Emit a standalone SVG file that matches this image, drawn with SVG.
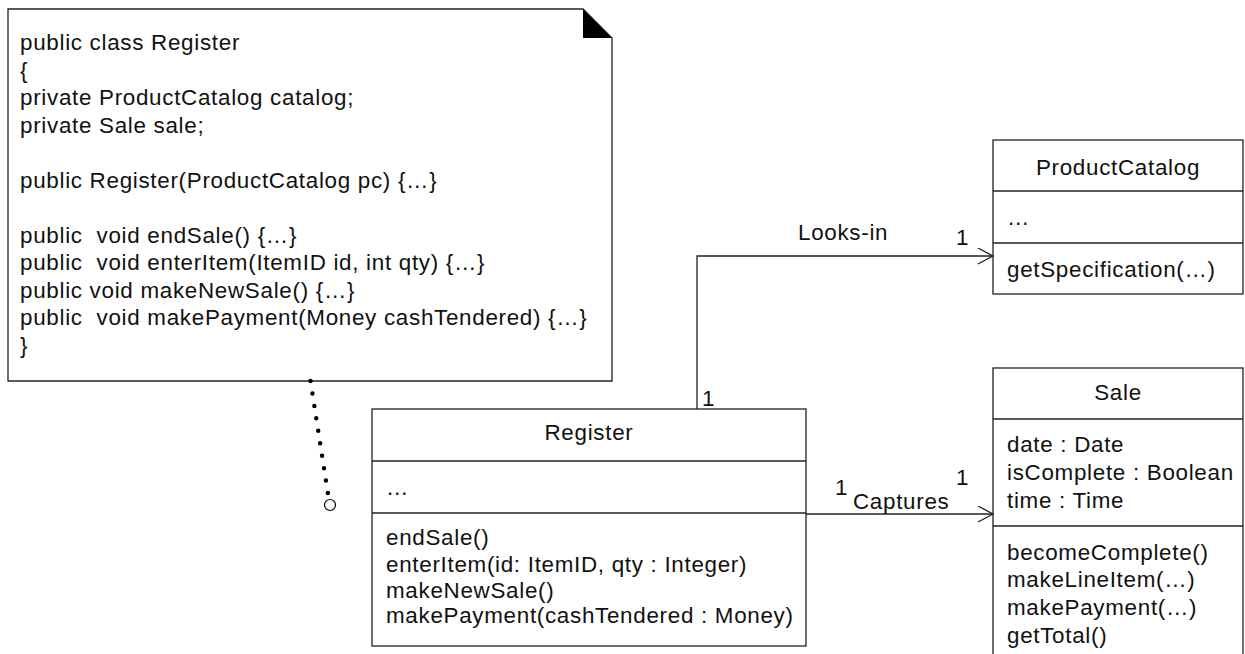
<svg xmlns="http://www.w3.org/2000/svg" width="1245" height="654" viewBox="0 0 1245 654">
<style>
text{font-family:"Liberation Sans",Arial,sans-serif;font-size:22.4px;fill:#111;letter-spacing:0.7px}
.c{text-anchor:middle}
.box{fill:#fff;stroke:#222;stroke-width:1.3}
.ln{fill:none;stroke:#222;stroke-width:1.3}
</style>
<defs>
<marker id="open" markerWidth="20" markerHeight="20" refX="16" refY="8" orient="auto" markerUnits="userSpaceOnUse">
<path d="M1,0 L16,8 L1,16" fill="none" stroke="#222" stroke-width="1.3"/>
</marker>
</defs>
<rect width="1245" height="654" fill="#fff"/>

<g id="note">
<path d="M8,9 L583,9 L612,38 L612,381 L8,381 Z" class="box"/>
<path d="M583,9 L612,38 L583,38 Z" fill="#000"/>
<text x="20" y="50">public class Register</text>
<text x="20" y="78">{</text>
<text x="20" y="105">private ProductCatalog catalog;</text>
<text x="20" y="133">private Sale sale;</text>
<text x="20" y="188">public Register(ProductCatalog pc) {…}</text>
<text x="20" y="243" xml:space="preserve">public  void endSale() {…}</text>
<text x="20" y="270" xml:space="preserve">public  void enterItem(ItemID id, int qty) {…}</text>
<text x="20" y="298">public void makeNewSale() {…}</text>
<text x="20" y="325" xml:space="preserve">public  void makePayment(Money cashTendered) {…}</text>
<text x="20" y="353">}</text>
</g>

<g id="register">
<rect x="372" y="409" width="434" height="237" class="box"/>
<line x1="372" y1="461" x2="806" y2="461" class="ln"/>
<line x1="372" y1="513" x2="806" y2="513" class="ln"/>
<text x="589" y="440" class="c">Register</text>
<text x="386" y="495">…</text>
<text x="386" y="545">endSale()</text>
<text x="386" y="572">enterItem(id: ItemID, qty : Integer)</text>
<text x="386" y="598">makeNewSale()</text>
<text x="386" y="623">makePayment(cashTendered : Money)</text>
</g>

<g id="productcatalog">
<rect x="993" y="140" width="250" height="154" class="box"/>
<line x1="993" y1="191" x2="1243" y2="191" class="ln"/>
<line x1="993" y1="243" x2="1243" y2="243" class="ln"/>
<text x="1118" y="175" class="c">ProductCatalog</text>
<text x="1007" y="225">…</text>
<text x="1007" y="277">getSpecification(…)</text>
</g>

<g id="sale">
<rect x="993" y="368" width="250" height="300" class="box"/>
<line x1="993" y1="419" x2="1243" y2="419" class="ln"/>
<line x1="993" y1="526" x2="1243" y2="526" class="ln"/>
<text x="1118" y="400" class="c">Sale</text>
<text x="1007" y="452">date : Date</text>
<text x="1007" y="480">isComplete : Boolean</text>
<text x="1007" y="508">time : Time</text>
<text x="1007" y="560">becomeComplete()</text>
<text x="1007" y="587">makeLineItem(…)</text>
<text x="1007" y="615">makePayment(…)</text>
<text x="1007" y="643">getTotal()</text>
</g>

<g id="connectors">
<path d="M310.5,381 L328,494" fill="none" stroke="#000" stroke-width="4.5" stroke-linecap="round" stroke-dasharray="0 12.6"/>
<circle cx="330" cy="505" r="5.5" fill="#fff" stroke="#000" stroke-width="1.2"/>
<path d="M697,409 L697,256 L993,256" class="ln" marker-end="url(#open)"/>
<path d="M806,514 L993,514" class="ln" marker-end="url(#open)"/>
<text x="798" y="240">Looks-in</text>
<text x="956" y="245">1</text>
<text x="702" y="406">1</text>
<text x="835" y="495">1</text>
<text x="853" y="509">Captures</text>
<text x="956" y="485">1</text>
</g>
</svg>
